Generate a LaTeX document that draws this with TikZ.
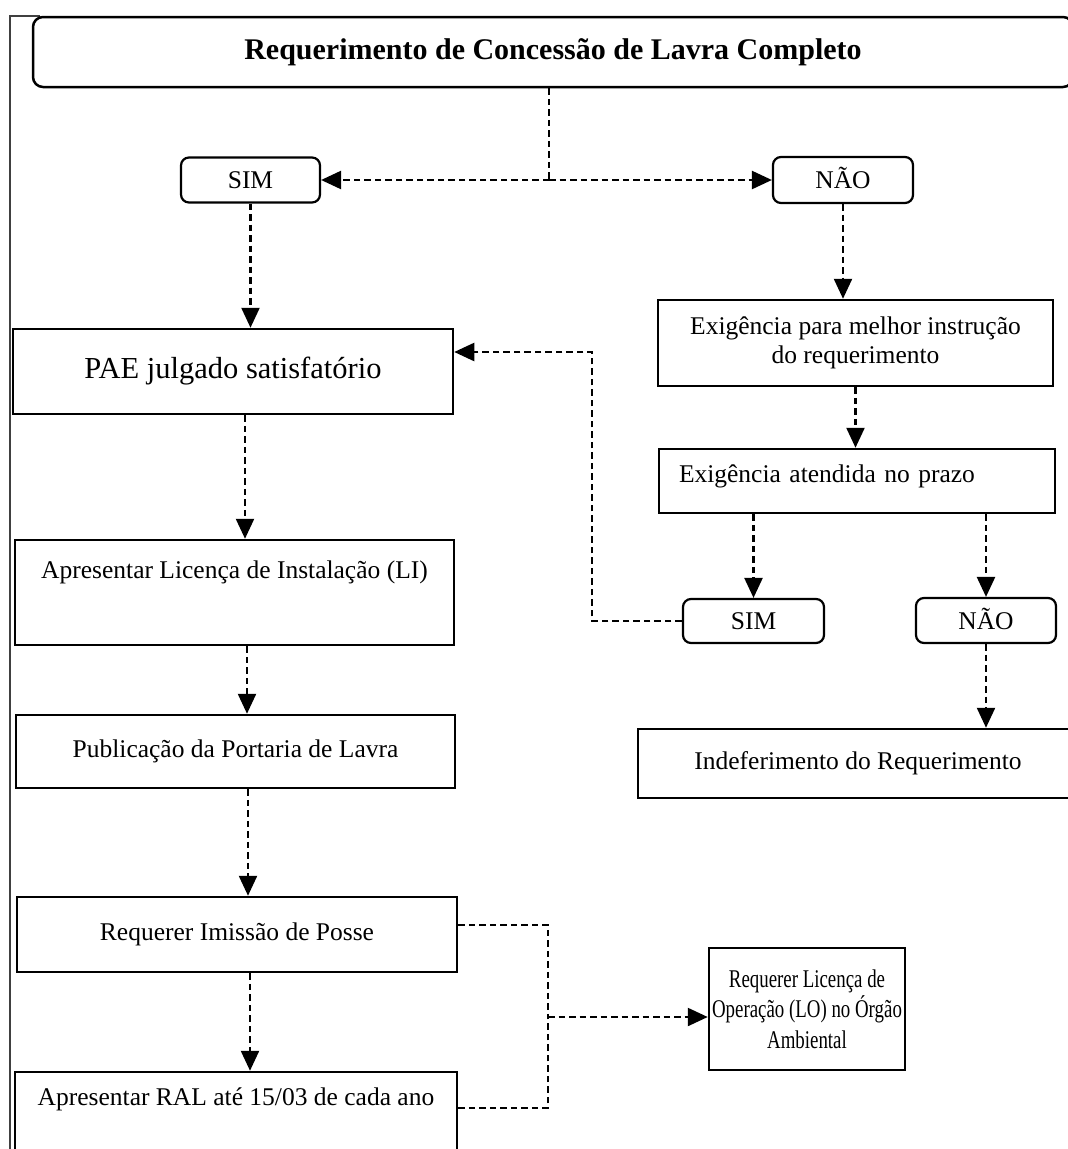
\documentclass[tikz,border=0pt]{standalone}
\usepackage{fontspec}
\setmainfont{Liberation Serif}
\newfontfamily\narrowserif[FakeStretch=0.74]{Liberation Serif}
\usetikzlibrary{arrows.meta}
\begin{document}
\begin{tikzpicture}[x=1pt,y=-1pt,
  box/.style={draw, line width=2.5pt, rectangle, inner sep=0pt,
    font=\fontsize{25.5}{30.5}\selectfont, align=center},
  pill/.style={box, line width=2.2pt, rounded corners=8pt, text height=17pt, text depth=0pt},
  link/.style={line width=2.4pt, dash pattern=on 6.5pt off 4pt},
  arr/.style={link, -{Triangle[length=20pt,width=18pt]}},
  frame/.style={line width=1.3pt, black!75}]
\useasboundingbox (0,0) rectangle (1068,1149);
\clip (0,0) rectangle (1068,1149);
\fill[white] (0,0) rectangle (1068,1149);

% outer frame (left and top edges)
\draw[frame] (10,1149) -- (10,16) -- (40,16);

% header
\node[box, rounded corners=10pt, minimum width=1040pt, minimum height=70pt,
  font=\bfseries\fontsize{30}{36}\selectfont] (title) at (553,52)
  {Requerimento de Concessão de Lavra Completo};

% first decision
\node[pill, minimum width=139pt, minimum height=45pt] (sim1) at (250.5,180) {SIM};
\node[pill, minimum width=140pt, minimum height=46pt] (nao1) at (843,180) {NÃO};
\coordinate (fork) at (549,180);
\draw[link] (title.south -| fork) -- (fork);
\draw[arr] (fork) -- (sim1.east);
\draw[arr] (fork) -- (nao1.west);

% left column
\node[box, minimum width=440pt, minimum height=85pt,
  font=\fontsize{30.5}{36}\selectfont] (pae) at (233,371.5) {PAE julgado satisfatório};
\node[box, minimum width=439pt, minimum height=105pt, text height=18pt, text depth=47pt]
  (li) at (234.5,592.5) {Apresentar Licença de Instalação (LI)};
\node[box, minimum width=439pt, minimum height=73pt] (pub) at (235.5,751.5)
  {Publicação da Portaria de Lavra};
\node[box, minimum width=440pt, minimum height=75pt] (imi) at (237,934.5)
  {Requerer Imissão de Posse};
\node[box, minimum width=442pt, minimum height=88pt, text height=18pt, text depth=40pt]
  (ral) at (236,1116) {Apresentar RAL até 15/03 de cada ano};

\draw[arr] (sim1.south) -- (sim1.south |- pae.north);
\draw[arr] ([xshift=12pt]pae.south) -- ([xshift=12pt]pae.south |- li.north);
\draw[arr] ([xshift=12.5pt]li.south) -- ([xshift=12.5pt]li.south |- pub.north);
\draw[arr] ([xshift=12.5pt]pub.south) -- ([xshift=12.5pt]pub.south |- imi.north);
\draw[arr] ([xshift=13pt]imi.south) -- ([xshift=13pt]imi.south |- ral.north);

% right column
\node[box, minimum width=395pt, minimum height=86pt, font=\fontsize{25.5}{29}\selectfont]
  (exig1) at (855.5,343) {Exigência para melhor instrução\\do requerimento};
\node[box, minimum width=396pt, minimum height=64pt, text width=356pt, align=left,
  text height=18pt, text depth=14.6pt] (exig2) at (857,481) {Exigência atendida no prazo};
\node[pill, minimum width=141pt, minimum height=44pt] (sim2) at (753.5,621) {SIM};
\node[pill, minimum width=140pt, minimum height=45pt] (nao2) at (986,620.5) {NÃO};
\node[box, minimum width=440pt, minimum height=69pt] (indef) at (858,763.5)
  {Indeferimento do Requerimento};

\draw[arr] (nao1.south) -- (nao1.south |- exig1.north);
\draw[arr] (exig1.south) -- (exig1.south |- exig2.north);
\draw[arr] (exig2.south -| sim2.north) -- (sim2.north);
\draw[arr] (exig2.south -| nao2.north) -- (nao2.north);
\draw[arr] (nao2.south) -- (nao2.south |- indef.north);

% return path from the second SIM
\coordinate (back) at (592,352);
\draw[arr] (sim2.west) -| (back) -- (back -| pae.east);

% environmental licence
\node[box, minimum width=196pt, minimum height=122pt,
  font=\narrowserif\fontsize{25.5}{30.5}\selectfont] (lo) at (807,1009)
  {Requerer Licença de\\Operação (LO) no Órgão\\Ambiental};
\coordinate (merge) at (548,1017);
\draw[link] ([yshift=9.5pt]imi.east) -| (merge);
\draw[link] ([yshift=8pt]ral.east) -| (merge);
\draw[arr] (merge) -- (merge -| lo.west);
\end{tikzpicture}
\end{document}
